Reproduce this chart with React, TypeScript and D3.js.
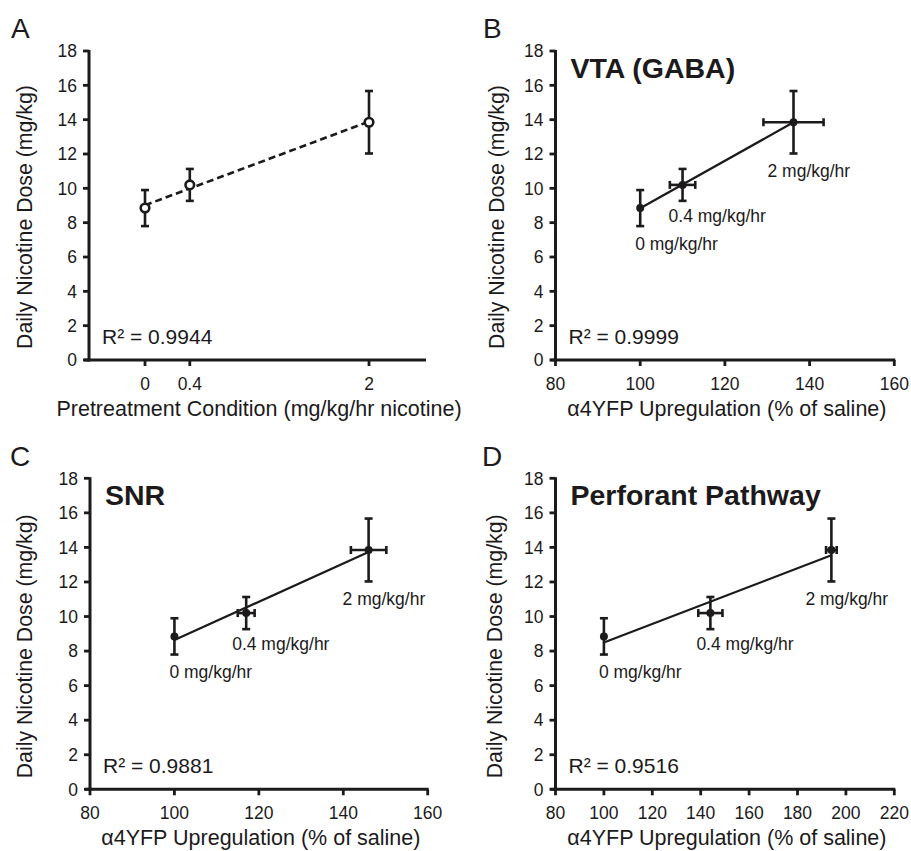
import React from "react";
import * as d3 from "d3";

// ---- Data ----
const doses = [0, 0.4, 2];
const doseLabels = ["0 mg/kg/hr", "0.4 mg/kg/hr", "2 mg/kg/hr"];
const nicotineMean = [8.85, 10.2, 13.85];
const nicotineErr = [1.05, 0.93, 1.82];

const vtaUp = [100, 110, 136.2];
const vtaUpErr = [0, 3, 7.1];
const snrUp = [100, 117, 146];
const snrUpErr = [0, 2, 4.2];
const ppUp = [100, 144, 194];
const ppUpErr = [0, 5, 2.2];

const yTicks = [0, 2, 4, 6, 8, 10, 12, 14, 16, 18];
const pretreatTicks = [0, 0.4, 2];
const upTicksShort = [80, 100, 120, 140, 160];
const upTicksLong = [80, 100, 120, 140, 160, 180, 200, 220];

const r2Labels = ["R² = 0.9944", "R² = 0.9999", "R² = 0.9881", "R² = 0.9516"];
const regionTitles = ["", "VTA (GABA)", "SNR", "Perforant Pathway"];
const panelLetters = ["A", "B", "C", "D"];
const xTitles = [
  "Pretreatment Condition (mg/kg/hr nicotine)",
  "α4YFP Upregulation (% of saline)",
  "α4YFP Upregulation (% of saline)",
  "α4YFP Upregulation (% of saline)",
];
const yTitle = "Daily Nicotine Dose (mg/kg)";

// ---- Styles / layout ----
const FONT = "'Liberation Sans', Arial, Helvetica, sans-serif";
const INK = "#1c1a1b";
const labelOffsets = [
  [-5, 42],
  [-14, 37],
  [-26, 55],
];

function fit(xs: number[], ys: number[]) {
  const mx = d3.mean(xs)!;
  const my = d3.mean(ys)!;
  let sxy = 0, sxx = 0;
  xs.forEach((x, i) => {
    sxy += (x - mx) * (ys[i] - my);
    sxx += (x - mx) * (x - mx);
  });
  const slope = sxy / sxx;
  return (x: number) => my + slope * (x - mx);
}

type PanelProps = {
  idx: number;
  left: number;
  right: number;
  top: number;
  bottom: number;
  xDomain: [number, number];
  xTicks: number[];
  xs: number[];
  xErr: number[] | null;
  open: boolean;
  dashed: boolean;
  showDoseLabels: boolean;
  letterX: number;
  letterY: number;
  yTitleX: number;
};

function Panel(p: PanelProps) {
  const x = d3.scaleLinear().domain(p.xDomain).range([p.left, p.right]);
  const y = d3.scaleLinear().domain([0, 18]).range([p.bottom, p.top]);
  const f = fit(p.xs, nicotineMean);
  const x0 = d3.min(p.xs)!;
  const x1 = d3.max(p.xs)!;
  const cap = 4;
  const sw = 2.6;
  const fmt = (v: number) => String(v);
  return (
    <g fontFamily={FONT} fill={INK}>
      <text x={p.letterX} y={p.letterY} fontSize={28}>
        {panelLetters[p.idx]}
      </text>
      {/* axes */}
      <line x1={p.left} x2={p.left} y1={p.top - 1} y2={p.bottom + 1.5} stroke={INK} strokeWidth={3} />
      <line x1={p.left - 5} x2={p.right + 1} y1={p.bottom} y2={p.bottom} stroke={INK} strokeWidth={3} />
      {yTicks.map((t) => (
        <g key={"y" + t}>
          <line x1={p.left - 6} x2={p.left} y1={y(t)} y2={y(t)} stroke={INK} strokeWidth={2.8} />
          <text x={p.left - 12} y={y(t)} dy="0.36em" textAnchor="end" fontSize={17.5}>
            {fmt(t)}
          </text>
        </g>
      ))}
      {p.xTicks.map((t) => (
        <g key={"x" + t}>
          <line x1={x(t)} x2={x(t)} y1={p.bottom} y2={p.bottom + 6} stroke={INK} strokeWidth={2.8} />
          <text x={x(t)} y={p.bottom + 30} textAnchor="middle" fontSize={17.5}>
            {fmt(t)}
          </text>
        </g>
      ))}
      <text x={(p.left + p.right) / 2 + 2} y={p.bottom + 56} textAnchor="middle" fontSize={21.5}>
        {xTitles[p.idx]}
      </text>
      <text
        transform={`translate(${p.yTitleX},${p.bottom - 143}) rotate(-90)`}
        textAnchor="middle"
        fontSize={21.3}
      >
        {yTitle}
      </text>
      {regionTitles[p.idx] && (
        <text x={p.left + 15} y={p.top + 27} fontSize={28.5} fontWeight="bold">
          {regionTitles[p.idx]}
        </text>
      )}
      <text x={p.left + 13} y={p.bottom - 16} fontSize={21}>
        {r2Labels[p.idx]}
      </text>
      {/* regression line */}
      <line
        x1={x(x0)}
        x2={x(x1)}
        y1={y(f(x0))}
        y2={y(f(x1))}
        stroke={INK}
        strokeWidth={p.dashed ? 2.6 : 2.2}
        strokeDasharray={p.dashed ? "7 4" : undefined}
      />
      {/* error bars */}
      {p.xs.map((xv, i) => {
        const m = nicotineMean[i];
        const e = nicotineErr[i];
        const he = p.xErr ? p.xErr[i] : 0;
        return (
          <g key={"e" + i} stroke={INK} strokeWidth={sw} fill="none">
            <line x1={x(xv)} x2={x(xv)} y1={y(m - e)} y2={y(m + e)} />
            <line x1={x(xv) - cap} x2={x(xv) + cap} y1={y(m - e)} y2={y(m - e)} />
            <line x1={x(xv) - cap} x2={x(xv) + cap} y1={y(m + e)} y2={y(m + e)} />
            {he > 0 && (
              <g>
                <line x1={x(xv - he)} x2={x(xv + he)} y1={y(m)} y2={y(m)} />
                <line x1={x(xv - he)} x2={x(xv - he)} y1={y(m) - cap} y2={y(m) + cap} />
                <line x1={x(xv + he)} x2={x(xv + he)} y1={y(m) - cap} y2={y(m) + cap} />
              </g>
            )}
          </g>
        );
      })}
      {/* markers */}
      {p.xs.map((xv, i) =>
        p.open ? (
          <circle key={"m" + i} cx={x(xv)} cy={y(nicotineMean[i])} r={4.3} fill="#fff" stroke={INK} strokeWidth={2.6} />
        ) : (
          <circle key={"m" + i} cx={x(xv)} cy={y(nicotineMean[i])} r={4} fill={INK} />
        )
      )}
      {p.showDoseLabels &&
        p.xs.map((xv, i) => (
          <text
            key={"l" + i}
            x={x(xv) + labelOffsets[i][0]}
            y={y(nicotineMean[i]) + labelOffsets[i][1]}
            fontSize={17.5}
          >
            {doseLabels[i]}
          </text>
        ))}
    </g>
  );
}

export default function App() {
  return (
    <svg
      width={911}
      height={851}
      style={{ position: "absolute", left: 0, top: 0, background: "#fff" }}
    >
      <rect width={911} height={851} fill="#fff" />
      <Panel
        idx={0}
        left={89}
        right={425}
        top={51}
        bottom={360}
        xDomain={[-0.5, 2.5]}
        xTicks={pretreatTicks}
        xs={doses}
        xErr={null}
        open={true}
        dashed={true}
        showDoseLabels={false}
        letterX={11}
        letterY={38}
        yTitleX={32}
      />
      <Panel
        idx={1}
        left={555.5}
        right={894.3}
        top={51}
        bottom={360}
        xDomain={[80, 160]}
        xTicks={upTicksShort}
        xs={vtaUp}
        xErr={vtaUpErr}
        open={false}
        dashed={false}
        showDoseLabels={true}
        letterX={483}
        letterY={38}
        yTitleX={504}
      />
      <Panel
        idx={2}
        left={90}
        right={427.7}
        top={478.3}
        bottom={789.3}
        xDomain={[80, 160]}
        xTicks={upTicksShort}
        xs={snrUp}
        xErr={snrUpErr}
        open={false}
        dashed={false}
        showDoseLabels={true}
        letterX={10}
        letterY={466}
        yTitleX={32}
      />
      <Panel
        idx={3}
        left={555.5}
        right={894.3}
        top={478.3}
        bottom={789.3}
        xDomain={[80, 220]}
        xTicks={upTicksLong}
        xs={ppUp}
        xErr={ppUpErr}
        open={false}
        dashed={false}
        showDoseLabels={true}
        letterX={482}
        letterY={466}
        yTitleX={502}
      />
    </svg>
  );
}
